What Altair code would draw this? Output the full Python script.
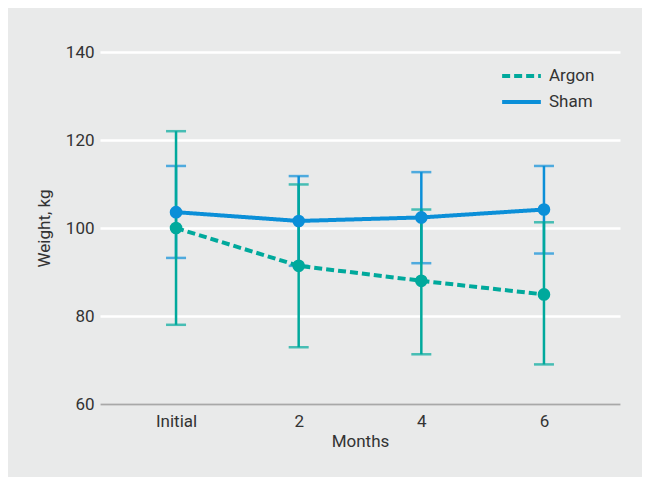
import altair as alt
import pandas as pd

months = ["Initial", "2", "4", "6"]
groups = ["Argon", "Sham"]
argon_mean = [100.0, 91.4, 88.0, 84.9]
argon_upper = [122.0, 109.9, 104.2, 101.3]
argon_lower = [78.0, 72.9, 71.3, 69.0]
sham_mean = [103.6, 101.6, 102.4, 104.2]
sham_upper = [114.1, 111.8, 112.7, 114.1]
sham_lower = [93.2, 91.4, 92.0, 94.2]
y_ticks = [60, 80, 100, 120, 140]

TEAL = "#00a99c"
BLUE = "#0b8fd8"
FONT = "Roboto"

rows = []
for g, mean, up, lo in [("Argon", argon_mean, argon_upper, argon_lower),
                        ("Sham", sham_mean, sham_upper, sham_lower)]:
    for m, v, u, l in zip(months, mean, up, lo):
        rows.append({"Months": m, "Group": g, "Weight": v, "Upper": u, "Lower": l})
df = pd.DataFrame(rows)

x = alt.X("Months:N", sort=months,
          scale=alt.Scale(type="point", padding=0.62),
          axis=alt.Axis(title="Months", labelAngle=0, ticks=False, grid=False,
                        domainColor="#a8a8a8", domainWidth=2,
                        labelPadding=9, titlePadding=4))
y_scale = alt.Scale(domain=[60, 140], nice=False, zero=False)
y = alt.Y("Weight:Q", scale=y_scale,
          axis=alt.Axis(title="Weight, kg", values=y_ticks, ticks=False, domain=False,
                        gridColor="white", gridWidth=2.5, labelPadding=6,
                        titlePadding=12))

base = alt.Chart(df)


def series_layers(g, color):
    sub = base.transform_filter(alt.datum.Group == g)
    rule = sub.mark_rule(color=color, strokeWidth=2.5).encode(
        x=x, y=alt.Y("Upper:Q", scale=y_scale, axis=alt.Axis(title="Weight, kg")), y2="Lower:Q")
    cap_hi = sub.mark_tick(color=color, size=20, thickness=2.5, orient="horizontal").encode(
        x=x, y=alt.Y("Upper:Q", scale=y_scale))
    cap_lo = sub.mark_tick(color=color, size=20, thickness=2.5, orient="horizontal").encode(
        x=x, y=alt.Y("Lower:Q", scale=y_scale))
    return [rule, cap_hi, cap_lo]


def point_layer(g, color):
    return base.transform_filter(alt.datum.Group == g).mark_circle(
        color=color, size=160, opacity=1).encode(x=x, y=y)


lines = base.mark_line(strokeWidth=4).encode(
    x=x, y=y,
    color=alt.Color("Group:N", sort=groups,
                    scale=alt.Scale(domain=groups, range=[TEAL, BLUE]),
                    legend=alt.Legend(title=None, orient="none", legendX=400, legendY=12,
                                      symbolType="stroke", symbolSize=1500,
                                      symbolStrokeWidth=4, labelFontSize=17,
                                      labelColor="#333333", labelFont=FONT,
                                      clipHeight=24, rowPadding=2, labelOffset=6)),
    strokeDash=alt.StrokeDash("Group:N", sort=groups,
                              scale=alt.Scale(domain=groups, range=[[8, 4], [1, 0]]),
                              legend=None),
    detail="Group:N",
)

chart = alt.layer(
    *series_layers("Sham", BLUE),
    *series_layers("Argon", TEAL),
    lines,
    point_layer("Argon", TEAL),
    point_layer("Sham", BLUE),
).properties(
    width=520, height=352,
    background="#e9eaea",
    padding={"left": 92, "top": 44, "right": 22, "bottom": 73},
    autosize=alt.AutoSizeParams(type="none"),
).configure_view(stroke=None).configure_axis(
    labelFont=FONT, titleFont=FONT, labelFontSize=17, titleFontSize=17,
    labelColor="#333333", titleColor="#333333", titleFontWeight="normal",
)

chart.save("out.html", embed_options={"renderer": "svg", "actions": False})
